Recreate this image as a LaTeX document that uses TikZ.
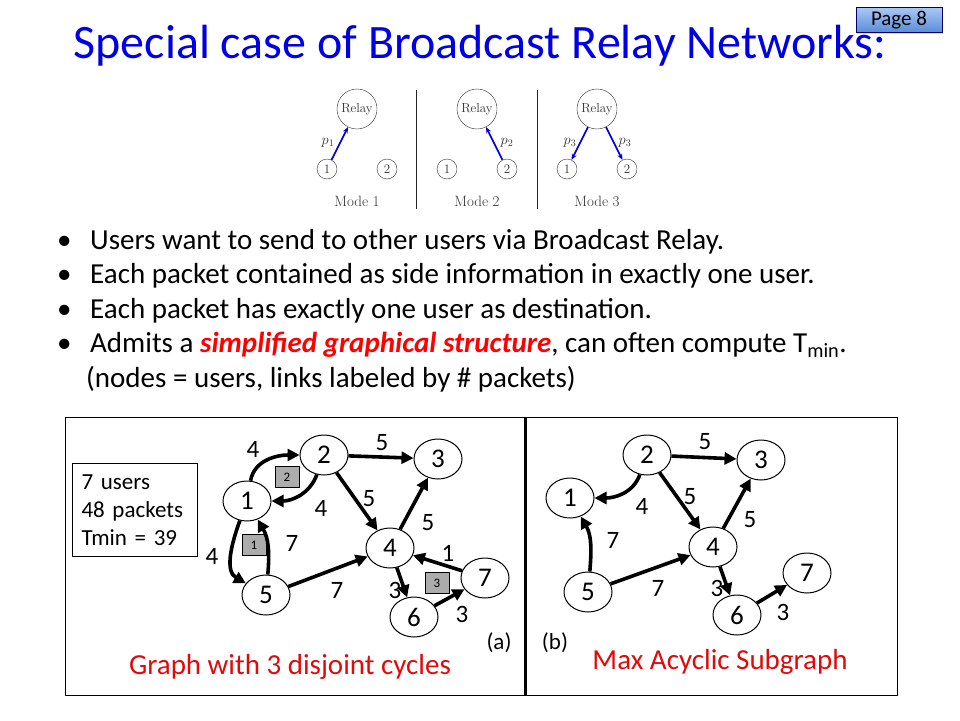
\documentclass[tikz,border=0pt]{standalone}
\usepackage{fontspec}
\setmainfont{Carlito}
\newfontfamily\lmfont{Latin Modern Roman}
\usetikzlibrary{shapes.geometric,arrows.meta,shadows}
\definecolor{titleblue}{RGB}{0,0,230}
\definecolor{capred}{RGB}{225,10,10}
\definecolor{pagetop}{RGB}{170,200,245}
\definecolor{pagebot}{RGB}{90,140,215}
\begin{document}
\begin{tikzpicture}[x=1pt,y=-1pt,
  user/.style={draw,ellipse,line width=1pt,minimum width=48pt,minimum height=40pt,inner sep=0pt,font=\fontsize{27}{27}\selectfont},
  edge/.style={line width=3.6pt,-{Triangle[length=12pt,width=12pt]}},
  wt/.style={font=\fontsize{25}{25}\selectfont},
  tag/.style={draw,fill=gray!65,minimum width=24pt,minimum height=21pt,inner sep=0pt,font=\fontsize{13}{13}\selectfont},
  relay/.style={draw=black!80,circle,minimum size=40pt,inner sep=0pt,font=\lmfont\fontsize{13}{13}\selectfont,text=black!80},
  mu/.style={draw=black!80,circle,minimum size=20pt,inner sep=0pt,font=\lmfont\fontsize{13}{13}\selectfont,text=black!80},
  parrow/.style={draw=blue!85!black,line width=1.6pt,-{Stealth[length=6pt,width=5pt]}},
  plab/.style={text=black!80,font=\fontsize{14}{14}\selectfont},
  bul/.style={anchor=base west,inner sep=0pt,font=\fontsize{29}{29}\selectfont}]
  \useasboundingbox (0,0) rectangle (960,720);
  \fill[white] (0,0) rectangle (960,720);

  % title and page tag
  \node[text=titleblue,inner sep=0pt,font=\fontsize{48}{48}\selectfont,anchor=base] (title) at (480,58) {Special case of Broadcast Relay Networks:};
  \node[draw=blue!40!black,top color=pagetop,bottom color=pagebot,drop shadow={opacity=0.3,shadow xshift=1pt,shadow yshift=-1.5pt},minimum width=86pt,minimum height=25pt,inner sep=0pt,font=\fontsize{21}{21}\selectfont] (page) at (899,20) {Page 8};

  % relay modes
  \foreach \m/\x in {1/357,2/477,3/597}{
    \node[relay] (r\m) at (\x,109) {Relay};
    \node[mu] (u\m a) at (\x-30,169) {1};
    \node[mu] (u\m b) at (\x+30,169) {2};
    \node[font=\lmfont\fontsize{15}{15}\selectfont,text=black!80] (mode\m) at (\x,201) {Mode \m};
  }
  \draw[black!85,line width=1pt] (416,90) -- (416,209);
  \draw[black!85,line width=1pt] (537,90) -- (537,209);
  \draw[parrow] (u1a) -- (r1);
  \draw[parrow] (u2b) -- (r2);
  \draw[parrow] (r3) -- (u3a);
  \draw[parrow] (r3) -- (u3b);
  \node[plab] (p1) at (328,143) {$p_1$};
  \node[plab] (p2) at (507,143) {$p_2$};
  \node[plab] (p3a) at (570,143) {$p_3$};
  \node[plab] (p3b) at (625,143) {$p_3$};

  % bullets
  \foreach \y in {249,283,318,352}
    \node[bul] at (57,\y) {•};
  \node[bul] (b1) at (90,249) {Users want to send to other users via Broadcast Relay.};
  \node[bul] (b2) at (90,283) {Each packet contained as side information in exactly one user.};
  \node[bul] (b3) at (90,318) {Each packet has exactly one user as destination.};
  \node[bul] (b4) at (90,352) {Admits a \textcolor{red}{\textbf{\textit{simplified graphical structure}}}, can often compute T\textsubscript{min}.};
  \node[bul] (b5) at (86,387) {(nodes = users, links labeled by \# packets)};

  % frames
  \draw[line width=1pt] (65,417) rectangle (897,695);
  \draw[line width=3pt] (525,417) -- (525,695);
  \node[draw,line width=1pt,anchor=north west,text width=107pt,inner xsep=9pt,minimum height=93pt,align=left,font=\fontsize{23}{28}\selectfont] (info) at (72,463) {7 users\\48 packets\\Tmin = 39};

  % graph (a)
  \node[user] (a1) at (247,501) {1};
  \node[user] (a2) at (324,455) {2};
  \node[user] (a3) at (438,459) {3};
  \node[user] (a4) at (390,548) {4};
  \node[user] (a5) at (266,595) {5};
  \node[user] (a6) at (414,617) {6};
  \node[user] (a7) at (485,578) {7};
  \node[tag] (t2) at (287,477) {2};
  \node[tag] (t1) at (254,545) {1};
  \node[tag] (t3) at (437,583) {3};
  \draw[edge] (a1) to[out=80,in=180] (a2);
  \draw[edge] (a2) to[out=-110,in=0] (a1);
  \draw[edge] (a1) to[out=-110,in=150] (a5);
  \draw[edge] (a5) to[out=85,in=-60] (a1);
  \draw[edge] (a2) -- (a3);
  \draw[edge] (a2) -- (a4);
  \draw[edge] (a4) -- (a3);
  \draw[edge] (a5) -- (a4);
  \draw[edge] (a7) -- (a4);
  \draw[edge] (a4) -- (a6);
  \draw[edge] (a6) -- (a7);
  \node[wt] (wa12) at (253,449) {4};
  \node[wt] (wa21) at (321,508) {4};
  \node[wt] (wa23) at (382,443) {5};
  \node[wt] (wa24) at (369,499) {5};
  \node[wt] (wa43) at (428,523) {5};
  \node[wt] (wa15) at (212,556) {4};
  \node[wt] (wa51) at (292,543) {7};
  \node[wt] (wa54) at (337,590) {7};
  \node[wt] (wa74) at (448,553) {1};
  \node[wt] (wa46) at (395,590) {3};
  \node[wt] (wa67) at (462,614) {3};
  \node[font=\fontsize{23}{23}\selectfont] (cap a) at (499,643) {(a)};
  \node[text=capred,font=\fontsize{29}{29}\selectfont] (txt a) at (290,667) {Graph with 3 disjoint cycles};

  % graph (b)
  \node[user] (b1) at (570,498) {1};
  \node[user] (b2) at (647,455) {2};
  \node[user] (b3) at (761,460) {3};
  \node[user] (b4) at (713,547) {4};
  \node[user] (b5) at (588,592) {5};
  \node[user] (b6) at (737,615) {6};
  \node[user] (b7) at (807,573) {7};
  \draw[edge] (b2) to[out=-110,in=0] (b1);
  \draw[edge] (b5) to[out=85,in=-60] (b1);
  \draw[edge] (b2) -- (b3);
  \draw[edge] (b2) -- (b4);
  \draw[edge] (b4) -- (b3);
  \draw[edge] (b5) -- (b4);
  \draw[edge] (b4) -- (b6);
  \draw[edge] (b6) -- (b7);
  \node[wt] (wb23) at (705,442) {5};
  \node[wt] (wb21) at (642,506) {4};
  \node[wt] (wb24) at (690,497) {5};
  \node[wt] (wb43) at (750,520) {5};
  \node[wt] (wb51) at (613,540) {7};
  \node[wt] (wb54) at (658,588) {7};
  \node[wt] (wb46) at (717,588) {3};
  \node[wt] (wb67) at (783,612) {3};
  \node[font=\fontsize{23}{23}\selectfont] (cap b) at (555,643) {(b)};
  \node[text=capred,font=\fontsize{29}{29}\selectfont] (txt b) at (720,662) {Max Acyclic Subgraph};
\end{tikzpicture}
\end{document}
